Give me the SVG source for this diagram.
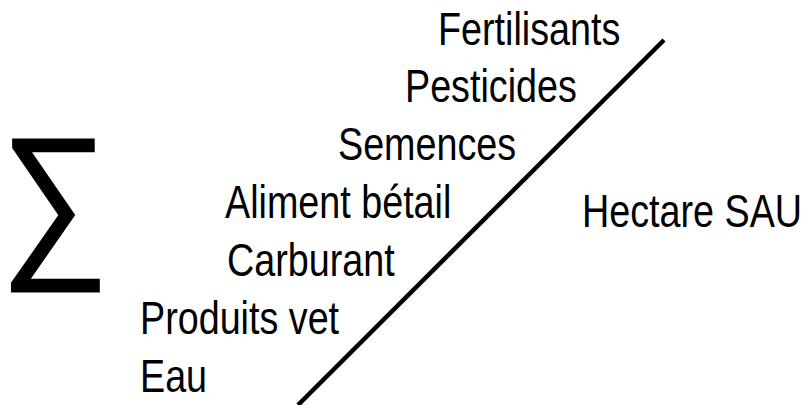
<svg xmlns="http://www.w3.org/2000/svg" width="809" height="405" viewBox="0 0 809 405">
<style>
.t{font-family:"Liberation Sans Narrow","Liberation Sans",Arial,sans-serif;font-size:46px;fill:#000}
.s{font-family:"Liberation Sans","DejaVu Sans",sans-serif;font-size:170px;fill:#000;stroke:#000;stroke-width:1.2}
</style>
<rect width="809" height="405" fill="#fff"/>
<g id="sigma"><text class="s" transform="translate(0,256) scale(0.9,1)">∑</text></g>
<g id="inputs">
<text class="t" transform="translate(438,45) scale(0.82,1)">Fertilisants</text>
<text class="t" transform="translate(405,102) scale(0.82,1)">Pesticides</text>
<text class="t" transform="translate(338,160) scale(0.82,1)">Semences</text>
<text class="t" transform="translate(225,218) scale(0.82,1)">Aliment bétail</text>
<text class="t" transform="translate(227,276) scale(0.82,1)">Carburant</text>
<text class="t" transform="translate(140,334) scale(0.82,1)">Produits vet</text>
<text class="t" transform="translate(140,392) scale(0.82,1)">Eau</text>
</g>
<g id="output"><text class="t" transform="translate(582,227) scale(0.82,1)">Hectare SAU</text></g>
<g id="connectors"><line x1="664" y1="40" x2="298" y2="405" stroke="#000" stroke-width="4.5"/></g>
</svg>
